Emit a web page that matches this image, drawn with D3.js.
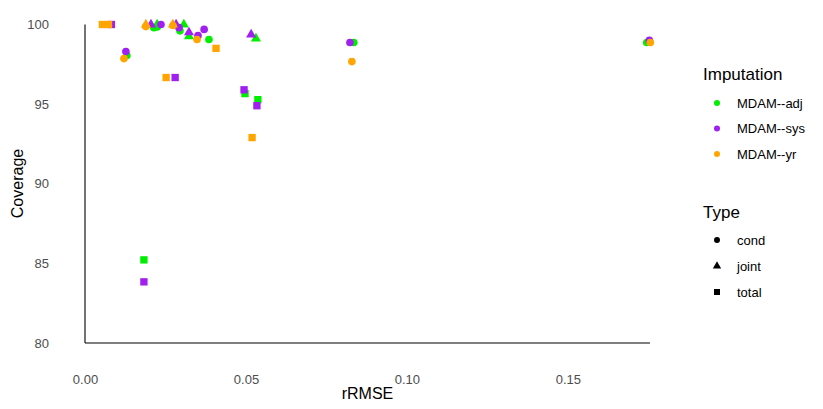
<!DOCTYPE html>
<html lang="en">
<head>
<meta charset="utf-8">
<title>Coverage vs rRMSE</title>
<script src="https://d3js.org/d3.v7.min.js"></script>
<style>
  body { margin: 0; background: #fff; }
  text { font-family: "Liberation Sans", Arial, sans-serif; }
  .tick text { fill: #4d4d4d; font-size: 13px; }
</style>
</head>
<body>
<div id="chart"></div>
<script>

// categories
var imputations = ["MDAM--adj", "MDAM--sys", "MDAM--yr"];
var types = ["cond", "joint", "total"];

// MDAM--adj
var adjRmse = [0.0130, 0.0214, 0.0224, 0.0295, 0.0385, 0.0835, 0.1745, 0.0224, 0.0307, 0.0323, 0.0531, 0.0183, 0.0497, 0.0537];
var adjCov  = [98.05, 99.8, 99.85, 99.6, 99.06, 98.87, 98.87, 100, 100, 99.25, 99.12, 85.22, 95.66, 95.28];
var adjType = ["cond", "cond", "cond", "cond", "cond", "cond", "cond", "joint", "joint", "joint", "joint", "total", "total", "total"];

// MDAM--sys
var sysRmse = [0.0127, 0.0236, 0.0292, 0.0351, 0.0370, 0.0823, 0.1753, 0.0205, 0.0283, 0.0323, 0.0516, 0.0082, 0.0183, 0.0280, 0.0494, 0.0534];
var sysCov  = [98.3, 100, 99.8, 99.3, 99.69, 98.87, 99.0, 100, 100, 99.5, 99.37, 100, 83.84, 96.67, 95.9, 94.9];
var sysType = ["cond", "cond", "cond", "cond", "cond", "cond", "cond", "joint", "joint", "joint", "joint", "total", "total", "total", "total", "total"];

// MDAM--yr
var yrRmse = [0.0121, 0.0189, 0.0273, 0.0348, 0.0829, 0.1756, 0.0189, 0.0273, 0.0054, 0.0073, 0.0252, 0.0407, 0.0519];
var yrCov  = [97.86, 99.87, 99.94, 99.06, 97.67, 98.87, 100, 100, 100, 100, 96.67, 98.5, 92.9];
var yrType = ["cond", "cond", "cond", "cond", "cond", "cond", "joint", "joint", "total", "total", "total", "total", "total"];

// tick labels
var xTicks = [0, 0.05, 0.10, 0.15];
var yTicks = [80, 85, 90, 95, 100];

var colors = ["#00ee00", "#a020f0", "#ffa500"];

var w = 823, h = 409;

var points = [];
[[adjRmse, adjCov, adjType], [sysRmse, sysCov, sysType], [yrRmse, yrCov, yrType]].forEach(function(s, k) {
  for (var i = 0; i < s[0].length; i++) {
    points.push({imp: imputations[k], rmse: s[0][i], cov: s[1][i], type: s[2][i]});
  }
});

var x = d3.scaleLinear().domain([0, 0.1755]).range([85, 650]);
var y = d3.scaleLinear().domain([80, 100]).range([343, 24.5]);
var color = d3.scaleOrdinal().domain(imputations).range(colors);
var shape = d3.scaleOrdinal().domain(types).range([d3.symbolCircle, d3.symbolTriangle, d3.symbolSquare]);
var size = d3.scaleOrdinal().domain(types).range([46, 44, 54]);

var svg = d3.select("#chart")
  .append("svg")
  .attr("width", w)
  .attr("height", h);

// axis lines at x = 0 and y = 80
svg.append("line")
  .attr("x1", x(0)).attr("x2", x(0))
  .attr("y1", y(100)).attr("y2", y(80))
  .attr("stroke", "black").attr("stroke-width", 1.1);
svg.append("line")
  .attr("x1", x(0)).attr("x2", x(0.1755))
  .attr("y1", y(80)).attr("y2", y(80))
  .attr("stroke", "black").attr("stroke-width", 1.1);

// tick labels only
var xAxis = svg.append("g")
  .attr("transform", "translate(0,370)")
  .call(d3.axisBottom(x).tickValues(xTicks).tickSize(0).tickPadding(5).tickFormat(d3.format(".2f")));
xAxis.select(".domain").remove();

var yAxis = svg.append("g")
  .attr("transform", "translate(52,0)")
  .call(d3.axisLeft(y).tickValues(yTicks).tickSize(0).tickPadding(3));
yAxis.select(".domain").remove();

// axis titles
svg.append("text")
  .attr("x", 367.5).attr("y", 393)
  .attr("dy", "0.35em")
  .attr("text-anchor", "middle")
  .style("font-size", "16px")
  .text("rRMSE");

svg.append("text")
  .attr("transform", "translate(17,183.5) rotate(-90)")
  .attr("dy", "0.35em")
  .attr("text-anchor", "middle")
  .style("font-size", "16px")
  .text("Coverage");

// points
svg.append("g").selectAll("path")
  .data(points)
  .enter()
  .append("path")
  .attr("transform", function(d) { return "translate(" + x(d.rmse) + "," + y(d.cov) + ")"; })
  .attr("d", function(d) { return d3.symbol().type(shape(d.type)).size(size(d.type))(); })
  .attr("fill", function(d) { return color(d.imp); });

// legends
var legX = 703, keyX = 717, labX = 737;

svg.append("text")
  .attr("x", legX).attr("y", 74.5)
  .attr("dy", "0.35em")
  .style("font-size", "17px")
  .text("Imputation");

var impY = [103, 128.5, 154];
imputations.forEach(function(m, i) {
  svg.append("circle")
    .attr("cx", keyX).attr("cy", impY[i]).attr("r", 3)
    .attr("fill", color(m));
  svg.append("text")
    .attr("x", labX).attr("y", impY[i])
    .attr("dy", "0.35em")
    .style("font-size", "13px")
    .text(m);
});

svg.append("text")
  .attr("x", legX).attr("y", 212)
  .attr("dy", "0.35em")
  .style("font-size", "17px")
  .text("Type");

var typeY = [240, 266, 292];
var keySize = [28, 30, 36];
types.forEach(function(t, i) {
  svg.append("path")
    .attr("transform", "translate(" + keyX + "," + typeY[i] + ")")
    .attr("d", d3.symbol().type(shape(t)).size(keySize[i])())
    .attr("fill", "black");
  svg.append("text")
    .attr("x", labX).attr("y", typeY[i])
    .attr("dy", "0.35em")
    .style("font-size", "13px")
    .text(t);
});

</script>
</body>
</html>
